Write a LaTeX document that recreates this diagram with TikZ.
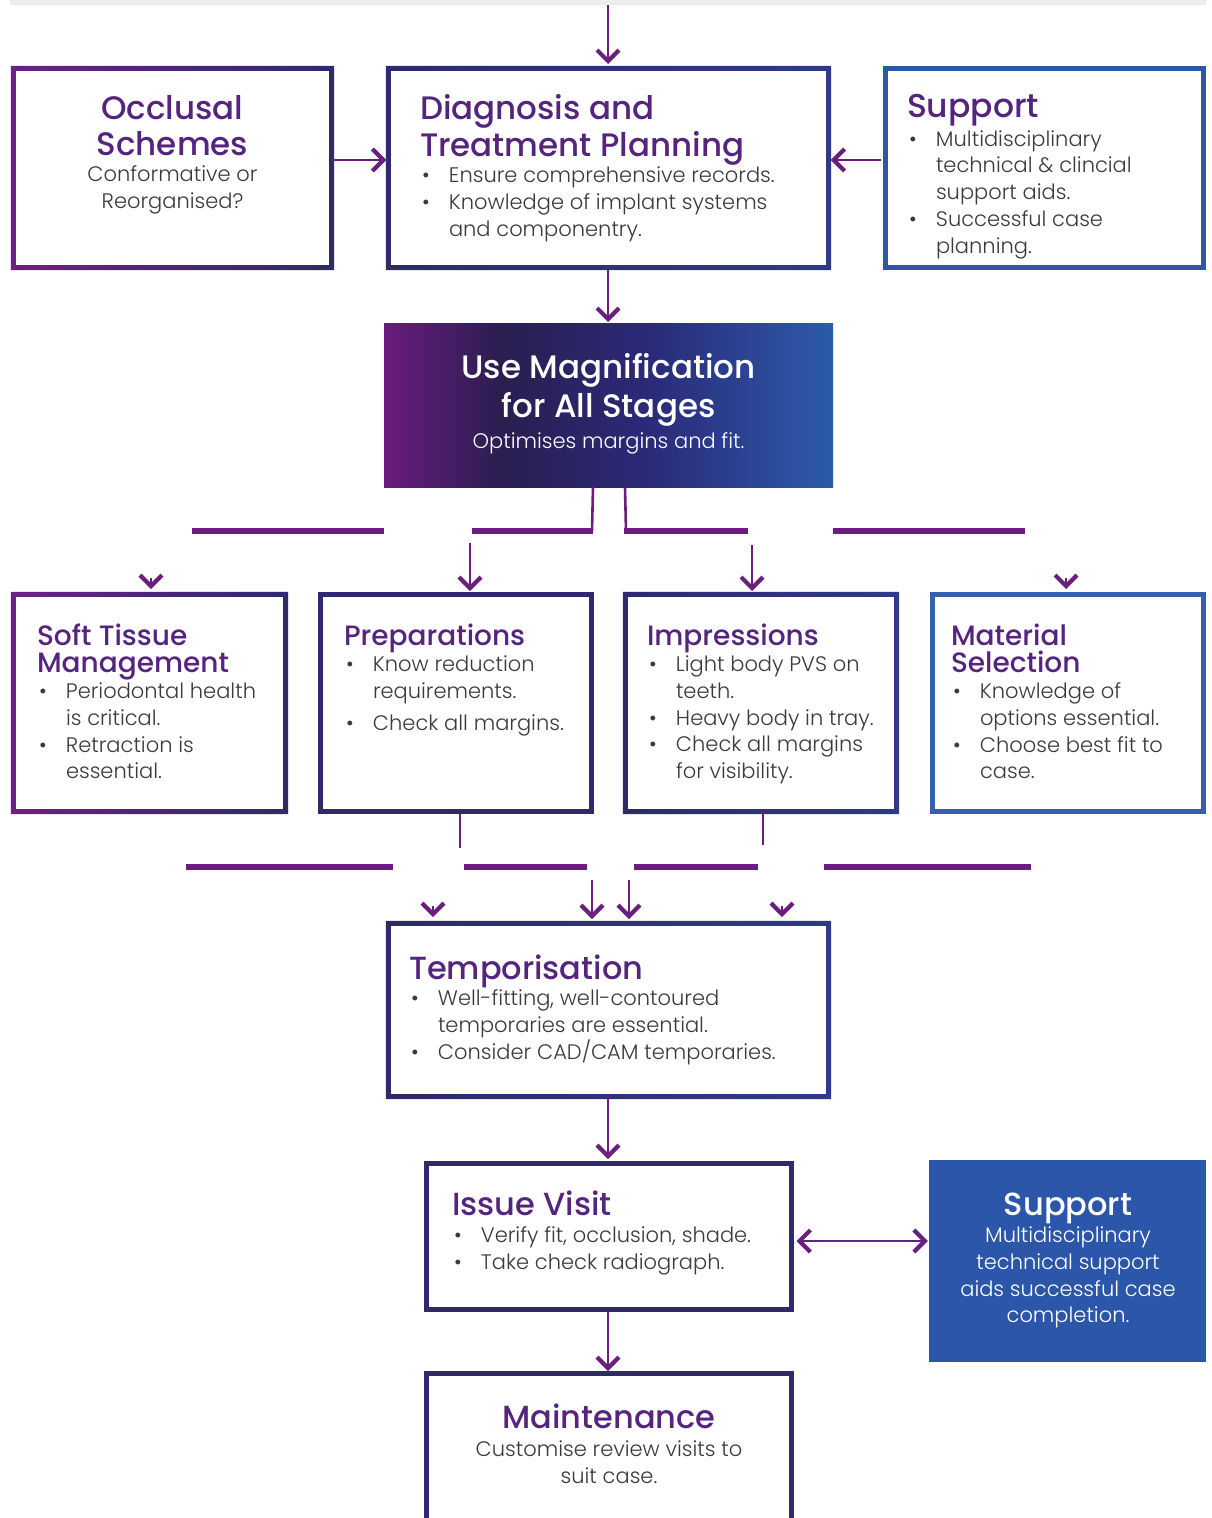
\documentclass[tikz,border=0pt]{standalone}
\usepackage{fontspec}
\usetikzlibrary{arrows.meta}
\newfontfamily\tfont{Poppins Medium}
\newfontfamily\bfont{Poppins Light}
\definecolor{pur}{HTML}{6B2180}
\definecolor{navy}{HTML}{2E2A6B}
\definecolor{navyb}{HTML}{2E3A86}
\definecolor{blu}{HTML}{2F57A6}
\definecolor{blum}{HTML}{3461AE}
\definecolor{blufill}{HTML}{2B56A9}
\definecolor{ttl}{HTML}{55247F}
\definecolor{bodyc}{HTML}{3A3A3A}
\definecolor{arrc}{HTML}{6A1F7F}
\definecolor{band}{HTML}{ECEEE9}
\definecolor{mgA}{HTML}{6A1B7E}
\definecolor{mgB}{HTML}{2A1E50}
\definecolor{mgC}{HTML}{2B2B7A}
\definecolor{mgD}{HTML}{2C5BAA}
\pgfdeclarehorizontalshading{magsh}{100bp}{color(0bp)=(mgA); color(25bp)=(mgA); color(38bp)=(mgB); color(55bp)=(mgC); color(75bp)=(mgD); color(100bp)=(mgD)}
\newcommand\tsty[2]{\tfont\fontsize{#1}{#2}\selectfont}
\newcommand\bsty{\bfont\fontsize{21}{26.7}\selectfont}
\newcommand\bul[1]{\par\hangindent=29pt\hangafter=1\noindent\makebox[29pt][l]{\hspace{2pt}\textbullet}{\let\\\newline #1}}
\newcommand\ringshade[3]{%
  \shade[left color=#2, right color=#3, even odd rule]
   ([shift={(-2.5pt,2.5pt)}]#1.north west) rectangle ([shift={(2.5pt,-2.5pt)}]#1.south east)
   ([shift={(2.5pt,-2.5pt)}]#1.north west) rectangle ([shift={(-2.5pt,2.5pt)}]#1.south east);}
\tikzset{
  bx/.style={draw=#1, line width=5pt, fill=white, inner sep=0pt},
  gbx/.style={draw=none, fill=white, inner sep=0pt},
  txt/.style={anchor=base west, inner sep=0pt, outer sep=0pt},
  ctxt/.style={anchor=base, inner sep=0pt, outer sep=0pt},
  arr/.style={draw=arrc, line width=2.6pt, -{Straight Barb[length=11pt,width=22pt,line width=4.2pt]}},
  darr/.style={draw=arrc, line width=2.6pt, {Straight Barb[length=11pt,width=22pt,line width=4.2pt]}-{Straight Barb[length=11pt,width=22pt,line width=4.2pt]}},
  stub/.style={draw=arrc, line width=2.6pt},
  hbar/.style={draw=arrc, line width=5.5pt},
}
\begin{document}
\begin{tikzpicture}[x=1pt,y=-1pt]
\useasboundingbox (0,0) rectangle (1212,1518);
\clip (0,0) rectangle (1212,1518);
\fill[white] (0,0) rectangle (1212,1518);
\fill[band] (10,0) rectangle (1206,5);

% ---------- boxes ----------
\node[gbx, minimum width=318pt, minimum height=199pt] (occ) at (172.5,168) {};
\ringshade{occ}{pur}{navy}
\node[gbx, minimum width=440pt, minimum height=199pt] (dg) at (608.5,168) {};
\ringshade{dg}{navy}{navyb}
\node[bx=blu, minimum width=318pt, minimum height=199pt] (supT) at (1044.5,168) {};
\node[shade, shading=magsh, inner sep=0pt, minimum width=449pt, minimum height=164pt] (mag) at (608.5,405) {};
\node[gbx, minimum width=272pt, minimum height=217pt] (soft) at (149.5,703) {};
\ringshade{soft}{pur}{navy}
\node[bx=navy, minimum width=271pt, minimum height=217pt] (prep) at (456,703) {};
\node[gbx, minimum width=271pt, minimum height=217pt] (impr) at (761,703) {};
\ringshade{impr}{navy}{navyb}
\node[bx=blum, minimum width=271pt, minimum height=217pt] (mat) at (1068,703) {};
\node[gbx, minimum width=440pt, minimum height=173pt] (temp) at (608.5,1010) {};
\ringshade{temp}{navy}{navyb}
\node[bx=navy, minimum width=365pt, minimum height=146pt] (issue) at (609,1236.5) {};
\node[fill=blufill, inner sep=0pt, minimum width=277pt, minimum height=202pt] (supB) at (1067.5,1261) {};
\node[bx=navy, minimum width=365pt, minimum height=160pt] (maint) at (609,1453) {};

% ---------- texts ----------
\node[ctxt] (occT) at (172.5,119) {\parbox[t]{300pt}{\centering\tsty{32.5}{36}\noindent\color{ttl}Occlusal\\Schemes\par
  \bsty\color{bodyc}Conformative or\\Reorganised?}};
\node[txt] (dgT) at (420,119) {\parbox[t]{420pt}{\raggedright\tsty{32.5}{37}\noindent\color{ttl}Diagnosis and\\Treatment Planning\par
  \bsty\color{bodyc}\bul{Ensure comprehensive records.}\bul{Knowledge of implant systems\\and componentry.}}};
\node[txt] (supTT) at (907,117) {\parbox[t]{300pt}{\raggedright\tsty{33}{37}\noindent\color{ttl}Support\par
  \bsty\color{bodyc}\vspace{2.5pt}\bul{Multidisciplinary\\technical \& clincial\\support aids.}\bul{Successful case\\planning.}}};
\node[ctxt] (magT) at (608.5,378) {\parbox[t]{440pt}{\centering\tsty{32.5}{39}\noindent\color{white}Use Magnification\\for All Stages\par
  \bsty\vspace{5pt}Optimises margins and fit.}};
\node[txt] (softT) at (37,645) {\parbox[t]{260pt}{\raggedright\tsty{28}{27}\noindent\color{ttl}Soft Tissue\\Management\par
  \bsty\color{bodyc}\bul{Periodontal health\\is critical.}\bul{Retraction is\\essential.}}};
\node[txt] (prepT) at (344,645) {\parbox[t]{260pt}{\raggedright\tsty{28}{27}\noindent\color{ttl}Preparations\par
  \bsty\color{bodyc}\bul{Know reduction\\requirements.}\par\vspace{5pt}\bul{Check all margins.}}};
\node[txt] (imprT) at (647,645) {\parbox[t]{260pt}{\raggedright\tsty{28}{27}\noindent\color{ttl}Impressions\par
  \bsty\color{bodyc}\bul{Light body PVS on\\teeth.}\bul{Heavy body in tray.}\bul{Check all margins\\for visibility.}}};
\node[txt] (matT) at (951,645) {\parbox[t]{260pt}{\raggedright\tsty{28}{27}\noindent\color{ttl}Material\\Selection\par
  \bsty\color{bodyc}\bul{Knowledge of\\options essential.}\bul{Choose best fit to\\case.}}};
\node[txt] (tempT) at (409,979) {\parbox[t]{420pt}{\raggedright\tsty{32}{36}\noindent\color{ttl}Temporisation\par
  \bsty\color{bodyc}\bul{Well-fitting, well-contoured\\temporaries are essential.}\bul{Consider CAD/CAM temporaries.}}};
\node[txt] (issueT) at (452,1215) {\parbox[t]{340pt}{\raggedright\tsty{32}{36}\noindent\color{ttl}Issue Visit\par
  \bsty\color{bodyc}\vspace{1pt}\bul{Verify fit, occlusion, shade.}\bul{Take check radiograph.}}};
\node[ctxt] (supBT) at (1068,1215) {\parbox[t]{270pt}{\centering\tsty{32}{36}\noindent\color{white}Support\par
  \bsty\vspace{1pt}Multidisciplinary\\technical support\\aids successful case\\completion.}};
\node[ctxt] (maintT) at (609,1428) {\parbox[t]{360pt}{\centering\tsty{32}{36}\noindent\color{ttl}Maintenance\par
  \bsty\color{bodyc}\vspace{2pt}Customise review visits to\\suit case.}};

% ---------- connectors ----------
\coordinate (top) at (608,5);
\draw[arr] (top) -- (608,64);
\draw[arr] ([yshift=8pt]occ.east) -- ([yshift=8pt,xshift=-2pt]dg.west);
\draw[arr] ([yshift=8pt,xshift=-2.5pt]supT.west) -- ([yshift=8pt,xshift=2pt]dg.east);
\draw[arr] ([xshift=-0.5pt,yshift=-2.5pt]dg.south) -- (608,322);

% below magnification
\draw[stub] (mag.south -| 593,0) -- (592,531);
\draw[stub] (mag.south -| 625,0) -- (626,531);
\coordinate (b1a) at (192,531); \coordinate (b1b) at (384,531);
\coordinate (b2a) at (472,531); \coordinate (b2b) at (593,531);
\coordinate (b3a) at (624,531); \coordinate (b3b) at (748,531);
\coordinate (b4a) at (833,531); \coordinate (b4b) at (1025,531);
\draw[hbar] (b1a) -- (b1b);
\draw[hbar] (b2a) -- (b2b);
\draw[hbar] (b3a) -- (b3b);
\draw[hbar] (b4a) -- (b4b);
\coordinate (aP) at (470,543);
\coordinate (aI) at (752,545);
\coordinate (aS) at (151,578);
\coordinate (aM) at (1066,578);
\draw[arr] (aP) -- (470,591);
\draw[arr] (aI) -- (752,591);
\draw[arr] (aS) -- (151,589);
\draw[arr] (aM) -- (1066,589);

% below row
\draw[stub] (prep.south -| 460,0) -- (460,848);
\draw[stub] (impr.south -| 763,0) -- (763,845);
\coordinate (c1a) at (186,867); \coordinate (c1b) at (393,867);
\coordinate (c2a) at (464,867); \coordinate (c2b) at (587,867);
\coordinate (c3a) at (634,867); \coordinate (c3b) at (758,867);
\coordinate (c4a) at (824,867); \coordinate (c4b) at (1031,867);
\draw[hbar] (c1a) -- (c1b);
\draw[hbar] (c2a) -- (c2b);
\draw[hbar] (c3a) -- (c3b);
\draw[hbar] (c4a) -- (c4b);
\coordinate (t1) at (592,880);
\coordinate (t2) at (629,880);
\coordinate (t3) at (433,906);
\coordinate (t4) at (782,906);
\draw[arr] (t1) -- (592,919);
\draw[arr] (t2) -- (629,919);
\draw[arr] (t3) -- (433,917);
\draw[arr] (t4) -- (782,917);

\draw[arr] (temp.south -| 608,0) -- (608,1159);
\draw[darr] ([yshift=-4.5pt,xshift=2.5pt]issue.east) -- ([yshift=-4.5pt,xshift=-1pt]issue.east -| supB.west);
\draw[arr] (issue.south -| 608,0) -- (608,1371);
\end{tikzpicture}
\end{document}
